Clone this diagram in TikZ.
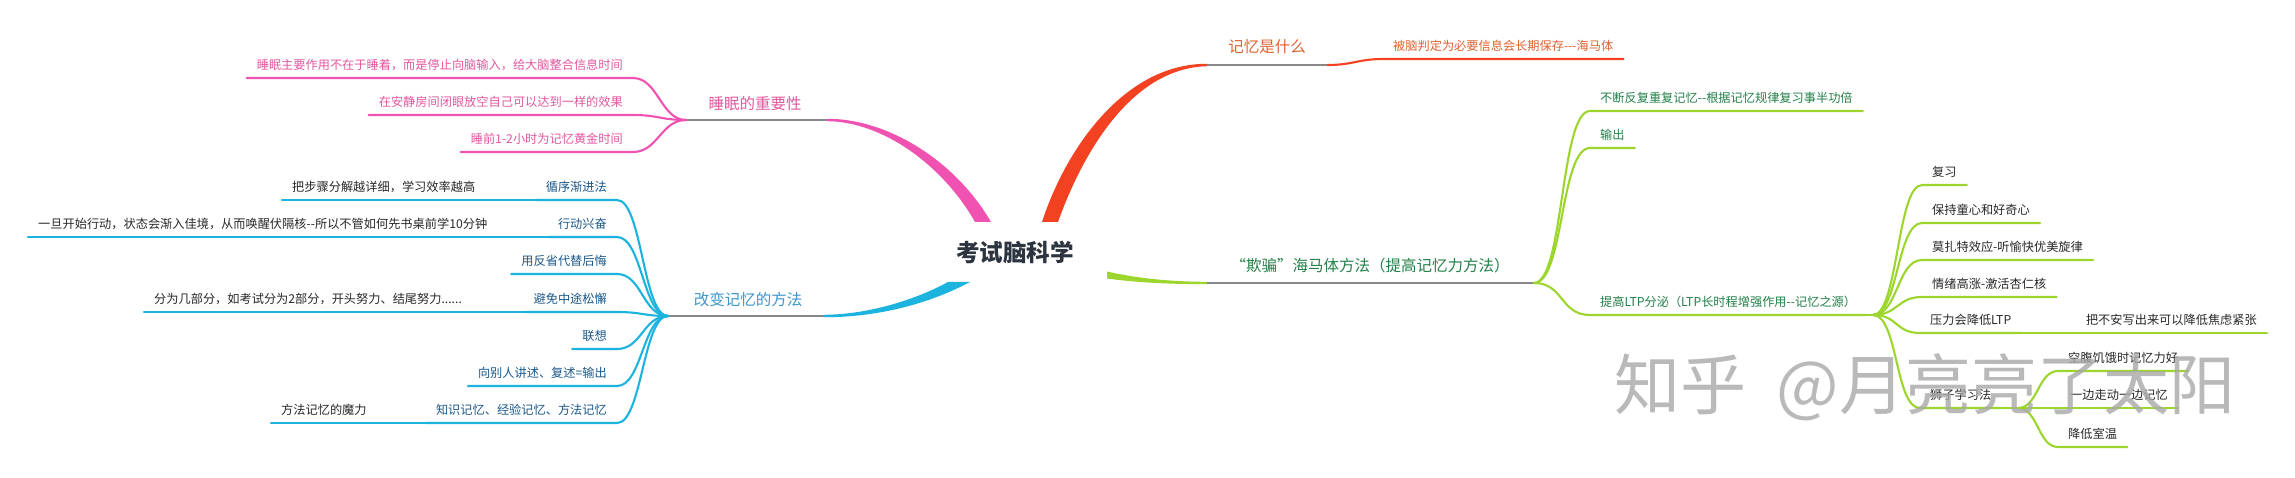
\documentclass[tikz,border=0pt]{standalone}
\usepackage{fontspec}
\setmainfont{Noto Sans CJK SC}
\definecolor{pinkB}{RGB}{240,82,178}
\definecolor{pinkT}{RGB}{226,88,160}
\definecolor{redB}{RGB}{242,66,34}
\definecolor{redT}{RGB}{224,98,48}
\definecolor{blueB}{RGB}{28,180,222}
\definecolor{blueT}{RGB}{58,150,205}
\definecolor{blueD}{RGB}{26,88,138}
\definecolor{greenB}{RGB}{156,214,44}
\definecolor{greenT}{RGB}{34,128,72}
\definecolor{greyL}{RGB}{136,136,136}
\definecolor{titleC}{RGB}{44,52,64}
\definecolor{leafC}{RGB}{40,40,40}
\definecolor{wmC}{RGB}{168,168,168}
\begin{document}
\begin{tikzpicture}[x=1pt,y=-1pt,
  leaf/.style={inner xsep=10pt, inner ysep=6pt, text height=10pt, text depth=2pt, font=\fontsize{12.2}{14}\selectfont},
  leafL/.style={leaf, anchor=south east},
  leafR/.style={leaf, anchor=south west},
  mainlbl/.style={inner sep=2pt, font=\fontsize{15.5}{18}\selectfont},
  uline/.style={line width=2.1pt, line cap=round},
  gline/.style={draw=greyL, line width=2.4pt},
  ]
\useasboundingbox (0,0) rectangle (2295,478);
\fill[white] (0,0) rectangle (2295,478);

% centre
\node[font=\fontsize{23.6}{26}\selectfont\bfseries, text=titleC] (c) at (1015,252) {考试脑科学};

% branch tips and junctions
\coordinate (pinkTip) at (827,120);
\coordinate (redTip) at (1207,65);
\coordinate (blueTip) at (824,316);
\coordinate (greenTip) at (1207,283);
\coordinate (jp) at (686,120);
\coordinate (jb) at (668,316);
\coordinate (jr) at (1328,65);
\coordinate (jg) at (1534,283);
\coordinate (jl) at (1873,315);
\coordinate (js) at (2018,408);

% tapered main branches
\fill[pinkB] ([yshift=1.2pt]pinkTip) .. controls (887,118.5) and (955,160) .. (991,222)
  -- (975,222) .. controls (944,167) and (884,121.5) .. ([yshift=-1.2pt]pinkTip) -- cycle;
\fill[redB] (1042,222) .. controls (1066,148) and (1125,63.5) .. ([yshift=1.2pt]redTip)
  -- ([yshift=-1.2pt]redTip) .. controls (1132,68) and (1083,152) .. (1058,222) -- cycle;
\fill[blueB] ([yshift=1.2pt]blueTip) .. controls (868,314.5) and (915,300) .. (948,282)
  -- (970,282) .. controls (925,306) and (872,317.5) .. ([yshift=-1.2pt]blueTip) -- cycle;
\fill[greenB] (1107,271.5) .. controls (1140,279) and (1175,281.8) .. ([yshift=1.2pt]greenTip)
  -- ([yshift=-1.2pt]greenTip) .. controls (1175,284.2) and (1140,283) .. (1107,278.5) -- cycle;

% grey label lines
\draw[gline] (pinkTip) -- (jp);
\draw[gline] (blueTip) -- (jb);
\draw[gline] (redTip) -- (jr);
\draw[gline] (greenTip) -- (jg);

% main labels
\node[mainlbl, text=pinkT] (lp) at (755,104) {睡眠的重要性};
\node[mainlbl, text=blueT] (lb) at (748,300) {改变记忆的方法};
\node[mainlbl, text=redT] (lr) at (1267,47) {记忆是什么};
\node[mainlbl, text=greenT] (lg) at (1370,266) {“欺骗”海马体方法（提高记忆力方法）};

% pink leaves
\node[leafL, text=pinkT] (p1) at (633,78) {睡眠主要作用不在于睡着，而是停止向脑输入，给大脑整合信息时间};
\node[leafL, text=pinkT] (p2) at (633,115) {在安静房间闭眼放空自己可以达到一样的效果};
\node[leafL, text=pinkT] (p3) at (633,152) {睡前1-2小时为记忆黄金时间};
\foreach \n in {p1,p2,p3}
  \draw[uline, pinkB] (\n.south west) -- (\n.south east) .. controls +(25,0) and +(-25,0) .. (jp);

% blue branch
\node[leafL, text=blueD] (b1) at (617,200) {循序渐进法};
\node[leafL, text=blueD] (b2) at (617,237) {行动兴奋};
\node[leafL, text=blueD] (b3) at (617,274) {用反省代替后悔};
\node[leafL, text=blueD] (b4) at (617,312) {避免中途松懈};
\node[leafL, text=blueD] (b5) at (617,349) {联想};
\node[leafL, text=blueD] (b6) at (617,386) {向别人讲述、复述=输出};
\node[leafL, text=blueD] (b7) at (617,423) {知识记忆、经验记忆、方法记忆};
\foreach \n in {b1,b2,b3,b4,b5,b6,b7}
  \draw[uline, blueB] (\n.south west) -- (\n.south east) .. controls +(25,0) and +(-25,0) .. (jb);
\node[leafR, text=leafC] (b1a) at (282,200) {把步骤分解越详细，学习效率越高};
\node[leafR, text=leafC] (b2a) at (28,237) {一旦开始行动，状态会渐入佳境，从而唤醒伏隔核-{}-所以不管如何先书桌前学10分钟};
\node[leafR, text=leafC] (b4a) at (144,312) {分为几部分，如考试分为2部分，开头努力、结尾努力......};
\node[leafR, text=leafC] (b7a) at (271,423) {方法记忆的魔力};
\draw[uline, blueB] (b1a.south west) -- (b1.south west);
\draw[uline, blueB] (b2a.south west) -- (b2.south west);
\draw[uline, blueB] (b4a.south west) -- (b4.south west);
\draw[uline, blueB] (b7a.south west) -- (b7.south west);

% red branch
\node[leafR, text=redT] (r1) at (1383,59) {被脑判定为必要信息会长期保存-{}-{}-海马体};
\draw[uline, redB] (jr) .. controls +(25,0) and +(-25,0) .. (r1.south west) -- (r1.south east);

% green branch
\node[leafR, text=greenT] (g1) at (1590,111) {不断反复重复记忆-{}-根据记忆规律复习事半功倍};
\node[leafR, text=greenT] (g2) at (1590,148) {输出};
\node[leafR, text=greenT] (g3) at (1590,315) {提高LTP分泌（LTP长时程增强作用-{}-记忆之源）};
\foreach \n in {g1,g2,g3}
  \draw[uline, greenB] (jg) .. controls +(30,0) and +(-30,0) .. (\n.south west) -- (\n.south east);
\draw[uline, greenB] (g3.south east) -- (jl);

\node[leafR, text=leafC] (l1) at (1922,185) {复习};
\node[leafR, text=leafC] (l2) at (1922,223) {保持童心和好奇心};
\node[leafR, text=leafC] (l3) at (1922,260) {莫扎特效应-听愉快优美旋律};
\node[leafR, text=leafC] (l4) at (1922,297) {情绪高涨-激活杏仁核};
\node[leafR, text=leafC] (l5) at (1920,333) {压力会降低LTP};
\node[leafR, text=leafC] (l6) at (1920,408) {狮子学习法};
\foreach \n in {l1,l2,l3,l4,l5,l6}
  \draw[uline, greenB] (jl) .. controls +(25,0) and +(-25,0) .. (\n.south west) -- (\n.south east);
\node[leafL, text=leafC] (l5a) at (2267,333) {把不安写出来可以降低焦虑紧张};
\draw[uline, greenB] (l5.south east) -- (l5a.south east);
\draw[uline, greenB] (l6.south east) -- (js);

\node[leafR, text=leafC] (s1) at (2058,371) {空腹饥饿时记忆力好};
\node[leafR, text=leafC] (s2) at (2060,408) {一边走动一边记忆};
\node[leafR, text=leafC] (s3) at (2058,447) {降低室温};
\foreach \n in {s1,s2,s3}
  \draw[uline, greenB] (js) .. controls +(20,0) and +(-20,0) .. (\n.south west) -- (\n.south east);

% watermark
\node[font=\fontsize{66}{70}\selectfont, text=wmC, opacity=0.8] (wm) at (1925,387) {知乎\hspace{0.45em}@月亮亮了太阳};
\end{tikzpicture}
\end{document}
